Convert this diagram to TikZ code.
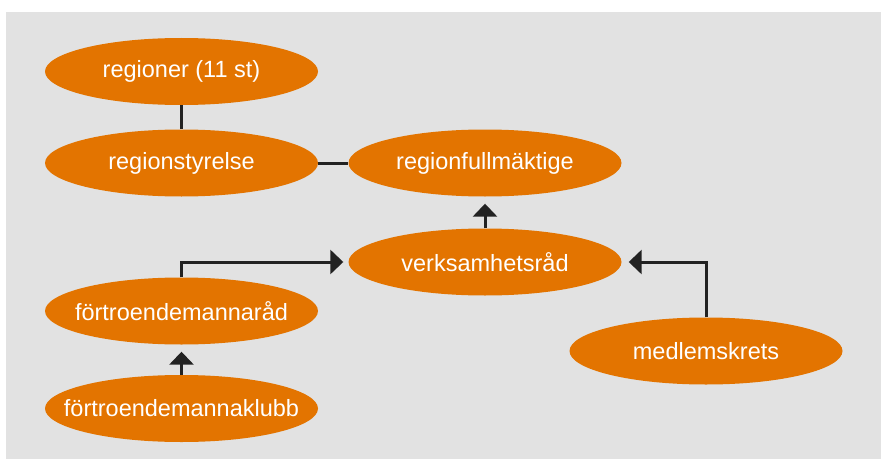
\documentclass[tikz,border=0pt]{standalone}
\usepackage{fontspec}
\setmainfont{Liberation Sans}
\usepackage{xcolor}
\usetikzlibrary{shapes.geometric,arrows.meta}
\definecolor{orgorange}{HTML}{E37400}
\definecolor{orggray}{HTML}{E2E2E2}
\definecolor{orgline}{HTML}{222222}
\tikzstyle{orgbox} = [ellipse, fill=orgorange, text=white,
    inner xsep=-30pt, inner ysep=0pt,
    minimum width=273pt, minimum height=67pt,
    font=\fontsize{23.5}{28}\selectfont]
\tikzstyle{link} = [draw=orgline, line width=3pt]
\tikzstyle{arrowlink} = [link, -{Triangle[length=13pt, width=24pt]}]

\begin{document}
\begin{tikzpicture}[x=1pt, y=1pt]
    \useasboundingbox (0,0) rectangle (881,459);
    \fill [orggray] (6,0) rectangle (881,447);
    \node [orgbox] (regioner) at (181.5,387.5) {regioner (11 st)};
    \node [orgbox] (styrelse) at (181.5,296) {regionstyrelse};
    \node [orgbox] (fullmaktige) at (485,296) {regionfullmäktige};
    \node [orgbox] (verksamhet) at (485,197) {verksamhetsråd};
    \node [orgbox] (fmrad) at (181.5,148) {förtroendemannaråd};
    \node [orgbox] (fmklubb) at (181.5,50.5) {förtroendemannaklubb};
    \node [orgbox] (medlem) at (706,108) {medlemskrets};
    \draw [link] (regioner) -- (styrelse);
    \draw [link] (styrelse) -- (fullmaktige);
    \draw [arrowlink, shorten >=7pt] (verksamhet) -- (fullmaktige);
    \draw [arrowlink, shorten >=7pt] (fmklubb) -- (fmrad);
    \draw [arrowlink, shorten >=5pt] (fmrad.north) |- (verksamhet.west);
    \draw [arrowlink, shorten >=7pt] (medlem.north) |- (verksamhet.east);
\end{tikzpicture}
\end{document}
